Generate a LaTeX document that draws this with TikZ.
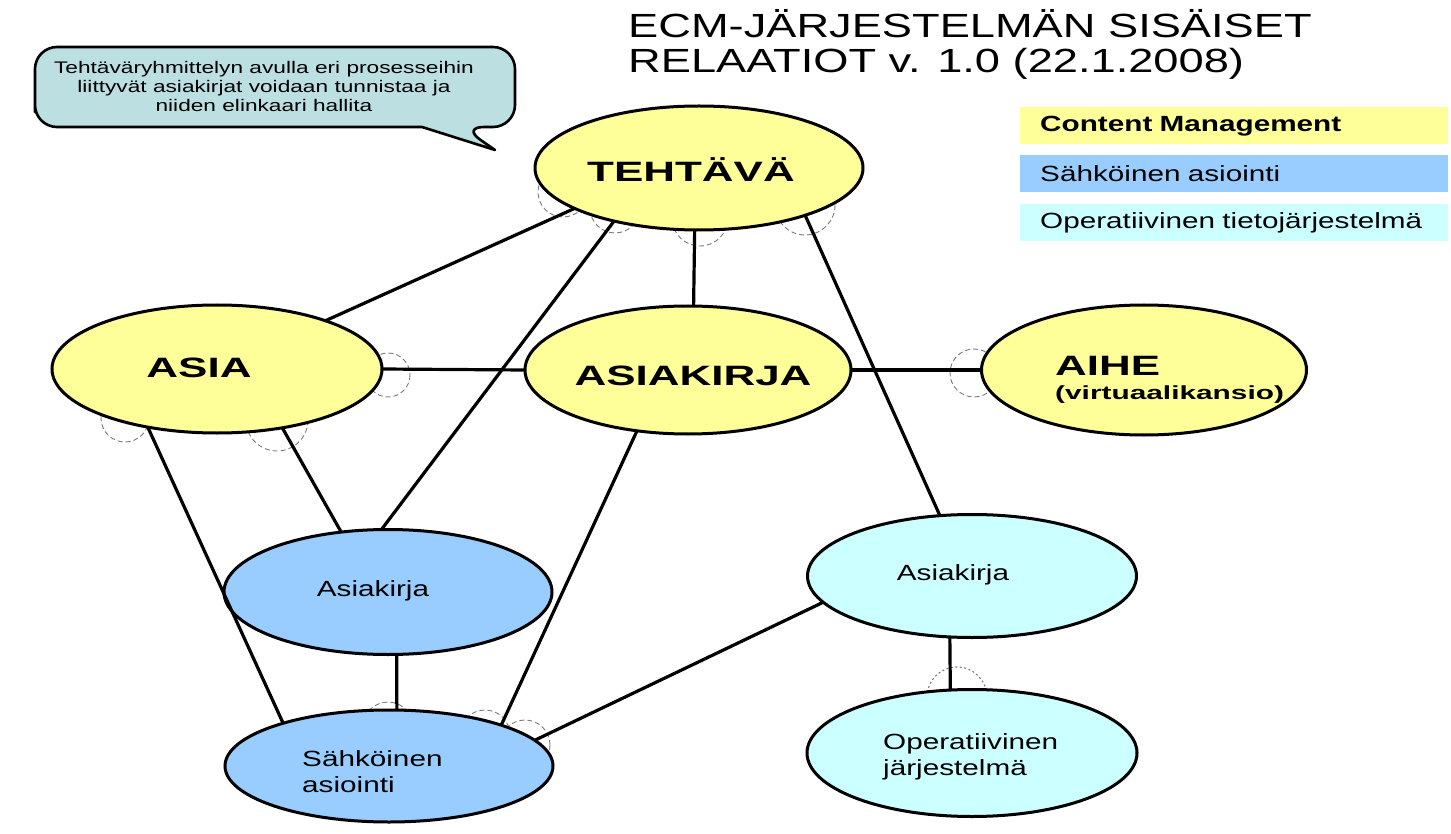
\documentclass[tikz,border=0pt]{standalone}
\usepackage{fontspec}
\setmainfont{Liberation Sans}[FakeStretch=1.35]
\newfontfamily\bigbold{Liberation Sans}[FakeStretch=1.57]
\usetikzlibrary{shapes.geometric,backgrounds}
\definecolor{cmyellow}{HTML}{FFFF99}
\definecolor{saBlue}{HTML}{99CCFF}
\definecolor{opCyan}{HTML}{CCFFFF}
\definecolor{callFill}{HTML}{BCDFE2}
\definecolor{arcGray}{HTML}{7A7A7A}
\tikzset{
  ell/.style={ellipse, draw=black, line width=3pt, inner sep=0pt, outer sep=0pt},
  cmell/.style={ell, fill=cmyellow},
  saell/.style={ell, fill=saBlue},
  opell/.style={ell, fill=opCyan},
  conn/.style={draw=black, line width=3.2pt},
  relarc/.style={draw=arcGray, line width=0.9pt, dash pattern=on 5pt off 3pt},
  relarcdot/.style={draw=arcGray, line width=1.1pt, dash pattern=on 2pt off 2.5pt},
  biglabel/.style={font=\bigbold\bfseries\fontsize{28}{32}\selectfont, inner sep=0pt},
  sublabel/.style={font=\bigbold\bfseries\fontsize{19}{22}\selectfont, inner sep=0pt},
  smalllabel/.style={font=\fontsize{22}{26}\selectfont, inner sep=0pt, align=left},
  legendbox/.style={minimum height=37pt, text width=388pt, inner xsep=20pt, inner ysep=0pt, align=left, font=\fontsize{22}{25}\selectfont},
  callout/.style={draw=black, line width=2.6pt, fill=callFill, line join=round},
  titletext/.style={font=\fontsize{33.5}{35.5}\selectfont, inner sep=0pt, align=left},
}
\begin{document}
\begin{tikzpicture}[x=1pt,y=-1pt]
\useasboundingbox (0,0) rectangle (1451,834);

% title
\node[titletext, anchor=base west] (title) at (628,73) {ECM-JÄRJESTELMÄN SISÄISET\\RELAATIOT v. 1.0 (22.1.2008)};

% callout
\draw[callout] (35,90) [rounded corners=22] |- (515,47) |- (462,127) [sharp corners] -- (495,150) -- (422,127) [rounded corners=22] -| (35,90) -- cycle;
\node[font=\fontsize{16.8}{19}\selectfont, align=center, inner sep=0pt] (note) at (264,86) {Tehtäväryhmittelyn avulla eri prosesseihin\\liittyvät asiakirjat voidaan tunnistaa ja\\niiden elinkaari hallita};

% legend
\node[legendbox, fill=cmyellow, anchor=north west] (lg1) at (1020,107) {\bfseries Content Management};
\node[legendbox, fill=saBlue, anchor=north west] (lg2) at (1020,155) {Sähköinen asiointi};
\node[legendbox, fill=opCyan, anchor=north west] (lg3) at (1020,204) {Operatiivinen tietojärjestelmä};

% ellipses
\node[cmell, minimum width=328pt, minimum height=124pt] (teh) at (699,168) {};
\node[cmell, minimum width=330pt, minimum height=128pt] (asia) at (217,369) {};
\node[cmell, minimum width=326pt, minimum height=128pt] (ak) at (688,370) {};
\node[cmell, minimum width=325pt, minimum height=130pt] (aihe) at (1144,370) {};
\node[saell, minimum width=328pt, minimum height=125pt] (basia) at (388,592) {};
\node[saell, minimum width=328pt, minimum height=112pt] (sah) at (389,766) {};
\node[opell, minimum width=329pt, minimum height=123pt] (casia) at (972,576) {};
\node[opell, minimum width=330pt, minimum height=127pt] (oper) at (972,753) {};

% labels
\node[biglabel, anchor=base] (tehL) at (691,182) {TEHTÄVÄ};
\node[biglabel, anchor=base] (asiaL) at (199,377) {ASIA};
\node[biglabel, anchor=base] (akL) at (693,385) {ASIAKIRJA};
\node[biglabel, anchor=base west] (aiheL) at (1055,375) {AIHE};
\node[sublabel, anchor=base west] (aiheS) at (1055,399) {(virtuaalikansio)};
\node[smalllabel] (basiaL) at (373,591) {Asiakirja};
\node[smalllabel, anchor=west] (sahL) at (302,772) {Sähköinen\\asiointi};
\node[smalllabel] (casiaL) at (953,575) {Asiakirja};
\node[smalllabel, anchor=west] (operL) at (883,757) {Operatiivinen\\järjestelmä};

% relation markers (partly hidden behind the ellipses)
\begin{scope}[on background layer]
\draw[relarc] (563,192) circle (25);
\draw[relarc] (615,208) circle (25);
\draw[relarc] (700,218) circle (28);
\draw[relarc] (805,205) circle (30);
\draw[relarc] (388,375) circle (22);
\draw[relarc] (125,418) circle (24);
\draw[relarc] (277,420) circle (31);
\draw[relarc] (974,373) circle (24);
\draw[relarc] (388,727) circle (25);
\draw[relarc] (485,735) circle (25);
\draw[relarc] (525,745) circle (25);
\draw[relarcdot] (957,697) circle (30);
\end{scope}

% connectors
\draw[conn] (teh.266) -- (ak.85.5);
\draw[conn] (teh.198.2) -- (asia.24.4);
\draw[conn] (teh.212.6) -- (basia.96);
\draw[conn] (teh.336) -- (casia.118.5);
\draw[conn] (asia.east) -- (ak.west);
\draw[conn] (ak.east) -- (aihe.west);
\draw[conn] (asia.220.3) -- (sah.158.1);
\draw[conn] (asia.318.1) -- (basia.128.3);
\draw[conn] (ak.230.2) -- (sah.20.8);
\draw[conn] (basia.278) -- (sah.82);
\draw[conn] (casia.190.2) -- (sah.10.4);
\draw[conn] (casia.250.5) -- (oper.109.3);
\end{tikzpicture}
\end{document}
